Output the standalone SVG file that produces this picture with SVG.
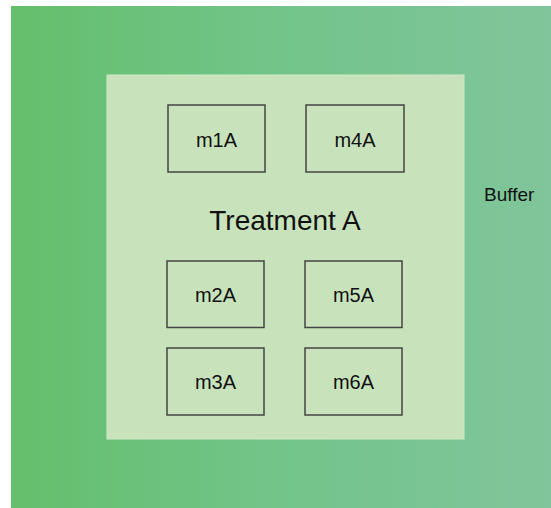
<svg xmlns="http://www.w3.org/2000/svg" width="551" height="508" viewBox="0 0 551 508">
<defs>
<linearGradient id="buf" x1="0" y1="0" x2="1" y2="0">
<stop offset="0" stop-color="#64bf6c"/>
<stop offset="0.5" stop-color="#73c48a"/>
<stop offset="1" stop-color="#80c59b"/>
</linearGradient>
<style>
.plot{fill:#c8e3bb;stroke:#444;stroke-width:1.5}
.lbl{font-family:"Liberation Sans",Arial,sans-serif;font-size:20px;fill:#111;text-anchor:middle}
</style>
</defs>
<rect width="551" height="508" fill="#fff"/>
<g id="buffer">
<rect x="11" y="6" width="540" height="502" fill="url(#buf)"/>
<text x="484" y="201" font-family="Liberation Sans, Arial, sans-serif" font-size="19" fill="#111">Buffer</text>
</g>
<g id="treatment">
<rect x="107" y="75" width="357" height="364" fill="#c8e3bb" stroke="#d2e9c6" stroke-width="1"/>
<text x="285" y="230" font-family="Liberation Sans, Arial, sans-serif" font-size="28" fill="#111" text-anchor="middle">Treatment A</text>
</g>
<g id="m1A"><rect class="plot" x="168" y="105" width="97" height="67"/><text class="lbl" x="216.5" y="147">m1A</text></g>
<g id="m4A"><rect class="plot" x="306" y="105" width="98" height="67"/><text class="lbl" x="355" y="147">m4A</text></g>
<g id="m2A"><rect class="plot" x="167" y="261" width="97" height="66.5"/><text class="lbl" x="215.5" y="302">m2A</text></g>
<g id="m5A"><rect class="plot" x="305" y="261" width="97" height="66.5"/><text class="lbl" x="353.5" y="302">m5A</text></g>
<g id="m3A"><rect class="plot" x="167" y="348" width="97" height="67"/><text class="lbl" x="215.5" y="389">m3A</text></g>
<g id="m6A"><rect class="plot" x="305" y="348" width="97" height="67"/><text class="lbl" x="353.5" y="389">m6A</text></g>
<g id="connectors"></g>
</svg>
